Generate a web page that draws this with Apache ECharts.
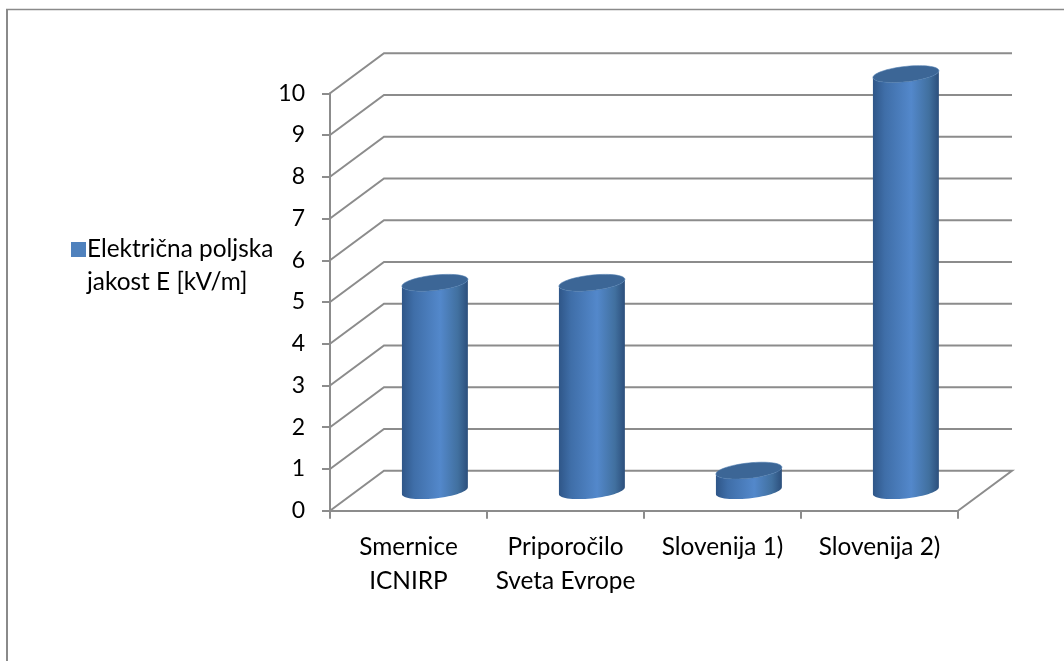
<!DOCTYPE html>
<html><head><meta charset="utf-8">
<style>html,body{margin:0;padding:0;background:#fff}#c{width:1064px;height:661px}</style>
<script src="https://cdn.jsdelivr.net/npm/echarts@6/dist/echarts.min.js"></script>
</head><body><div id="c"></div>
<script>
const categories = ['Smernice\nICNIRP', 'Priporočilo\nSveta Evrope', 'Slovenija 1)', 'Slovenija 2)'];
const values = [5, 5, 0.5, 10];
const yTicks = [0,1,2,3,4,5,6,7,8,9,10];
const seriesName = 'Električna poljska jakost E [kV/m]';

const DX = 54, DY = -40;
const FONT = 'Lato';
const GREY = '#8c8c8c';

function wallItem(params, api) {
  const cs = params.coordSys;
  const v = api.value(0);
  const y = api.coord([0, v])[1];
  const x0 = cs.x, x1 = cs.x + cs.width;
  const lineStyle = {stroke: GREY, lineWidth: 2, fill: null};
  const pts = [[x0, y], [x0 + DX, y + DY], [x1 + DX, y + DY]];
  if (v === 0) pts.push([x1, y]);
  return {type: 'polyline', shape: {points: pts}, style: lineStyle, silent: true};
}

function arc(cx, cy, a, s, b, from, to, n) {
  const out = [];
  for (let i = 0; i <= n; i++) {
    const t = from + (to - from) * i / n;
    out.push([cx + a * Math.cos(t), cy - s * Math.cos(t) + b * Math.sin(t)]);
  }
  return out;
}

function cylinderItem(params, api) {
  const i = api.value(0), v = api.value(1);
  const top = api.coord([i, v]), bot = api.coord([i, 0]);
  const a = api.size([1, 0])[0] * 0.21;
  const s = 3.4, b = 7.7;
  const cx = top[0] + DX / 2 - 0.6;
  const yt = top[1] + DY / 2 + 0.8, yb = bot[1] + DY / 2;
  const body = arc(cx, yt, a, s, b, Math.PI, 0, 30).concat(arc(cx, yb, a, s, b, 0, Math.PI, 30));
  const cap = arc(cx, yt, a, s, b, 0, Math.PI * 2, 60);
  return {type: 'group', children: [
    {type: 'polygon', shape: {points: body}, style: {fill: new echarts.graphic.LinearGradient(0, 0, 1, 0, [
      {offset: 0, color: '#2f5688'},
      {offset: 0.18, color: '#3f6ea8'},
      {offset: 0.58, color: '#5388cb'},
      {offset: 0.85, color: '#41709f'},
      {offset: 1, color: '#2c4f7c'}
    ])}},
    {type: 'polygon', shape: {points: cap}, style: {fill: '#3c6696', stroke: '#4a78ad', lineWidth: 0.6}}
  ]};
}

const chart = echarts.init(document.getElementById('c'), null, {renderer: 'canvas'});
chart.setOption({
  animation: false,
  backgroundColor: '#fff',
  textStyle: {fontFamily: FONT},
  graphic: [
    {type: 'line', shape: {x1: 7, y1: 9, x2: 7, y2: 661}, style: {stroke: '#8a8a8a', lineWidth: 2}, silent: true},
    {type: 'line', shape: {x1: 6, y1: 9.5, x2: 1064, y2: 9.5}, style: {stroke: '#8a8a8a', lineWidth: 1.5}, silent: true}
  ],
  legend: {
    show: true, left: 66, top: 195, orient: 'vertical',
    data: [{name: seriesName, icon: 'rect'}],
    itemWidth: 15, itemHeight: 15, itemGap: 0,
    selectedMode: false,
    formatter: () => '\nElektrična poljska\njakost E [kV/m]',
    textStyle: {fontFamily: FONT, fontSize: 24.4, color: '#000', lineHeight: 33, padding: [0, 0, 0, -4]}
  },
  grid: {left: 330, right: 106, top: 93.3, bottom: 150.3, containLabel: false},
  xAxis: {
    type: 'category', data: categories,
    axisLine: {lineStyle: {color: GREY, width: 2}},
    axisTick: {show: true, length: 8, lineStyle: {color: GREY, width: 2}},
    axisLabel: {fontFamily: FONT, fontSize: 24.4, color: '#000', lineHeight: 34, margin: 19, interval: 0}
  },
  yAxis: {
    type: 'value', min: 0, max: 10, interval: 1,
    axisLine: {show: true, lineStyle: {color: GREY, width: 2}},
    axisTick: {show: true, length: 8, lineStyle: {color: GREY, width: 2}},
    axisLabel: {fontFamily: FONT, fontSize: 23, color: '#000', margin: 25},
    splitLine: {show: false}
  },
  series: [
    {type: 'custom', name: 'grid', z: 1, silent: true, renderItem: wallItem,
     data: yTicks.map(v => [v]), encode: {y: 0}, tooltip: {show: false}},
    {type: 'custom', name: seriesName, z: 3, renderItem: cylinderItem,
     itemStyle: {color: '#4f81bd'},
     data: values.map((v, i) => [i, v]), encode: {x: 0, y: 1}}
  ]
});
</script></body></html>
